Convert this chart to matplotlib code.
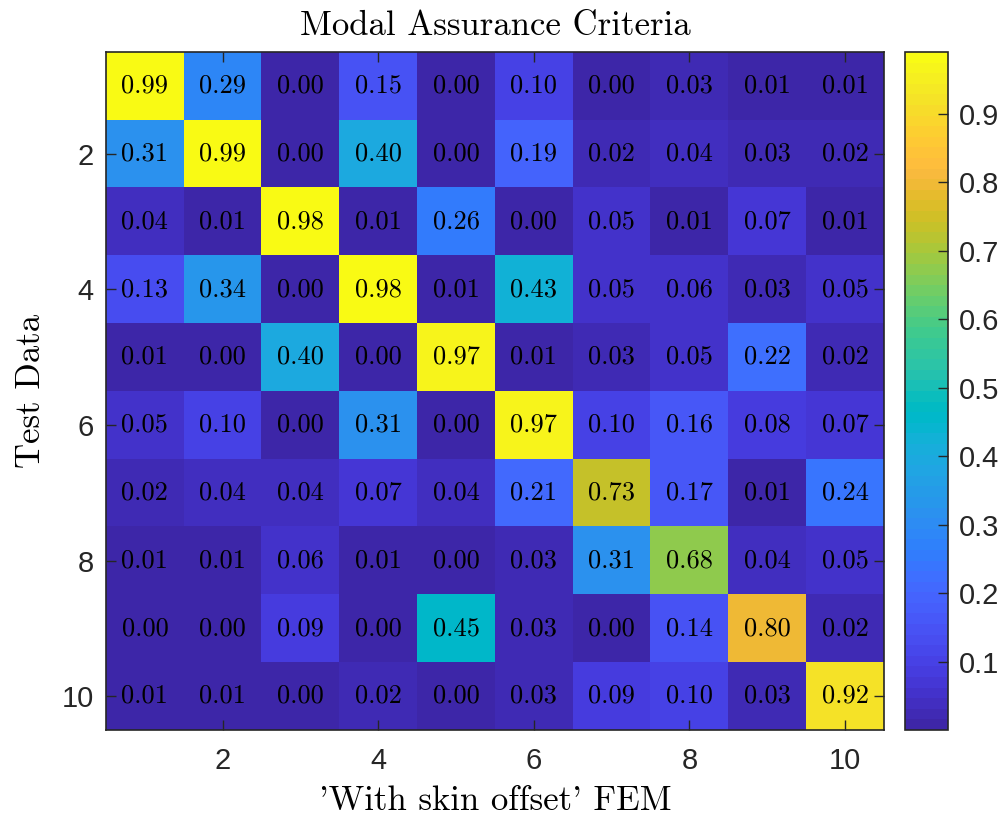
import numpy as np
import matplotlib
matplotlib.use('Agg')
import matplotlib.pyplot as plt
from matplotlib.colors import ListedColormap

# MAC values (rows: test modes, cols: FEM modes)
row1 = [0.99, 0.29, 0.00, 0.15, 0.00, 0.10, 0.00, 0.03, 0.01, 0.01]
row2 = [0.31, 0.99, 0.00, 0.40, 0.00, 0.19, 0.02, 0.04, 0.03, 0.02]
row3 = [0.04, 0.01, 0.98, 0.01, 0.26, 0.00, 0.05, 0.01, 0.07, 0.01]
row4 = [0.13, 0.34, 0.00, 0.98, 0.01, 0.43, 0.05, 0.06, 0.03, 0.05]
row5 = [0.01, 0.00, 0.40, 0.00, 0.97, 0.01, 0.03, 0.05, 0.22, 0.02]
row6 = [0.05, 0.10, 0.00, 0.31, 0.00, 0.97, 0.10, 0.16, 0.08, 0.07]
row7 = [0.02, 0.04, 0.04, 0.07, 0.04, 0.21, 0.73, 0.17, 0.01, 0.24]
row8 = [0.01, 0.01, 0.06, 0.01, 0.00, 0.03, 0.31, 0.68, 0.04, 0.05]
row9 = [0.00, 0.00, 0.09, 0.00, 0.45, 0.03, 0.00, 0.14, 0.80, 0.02]
row10 = [0.01, 0.01, 0.00, 0.02, 0.00, 0.03, 0.09, 0.10, 0.03, 0.92]
mac = np.array([row1, row2, row3, row4, row5, row6, row7, row8, row9, row10])

ticks = [2, 4, 6, 8, 10]
cbar_ticks = [0.1, 0.2, 0.3, 0.4, 0.5, 0.6, 0.7, 0.8, 0.9]

# parula (new matlab version, 64 colours)
parula = [
    [0.2422, 0.1504, 0.6603], [0.2504, 0.1650, 0.7076], [0.2578, 0.1818, 0.7511],
    [0.2647, 0.1978, 0.7952], [0.2706, 0.2147, 0.8364], [0.2751, 0.2342, 0.8710],
    [0.2783, 0.2559, 0.8991], [0.2803, 0.2782, 0.9221], [0.2813, 0.3006, 0.9414],
    [0.2810, 0.3228, 0.9579], [0.2795, 0.3447, 0.9717], [0.2760, 0.3667, 0.9829],
    [0.2699, 0.3892, 0.9906], [0.2602, 0.4123, 0.9952], [0.2440, 0.4358, 0.9988],
    [0.2206, 0.4603, 0.9973], [0.1963, 0.4847, 0.9892], [0.1834, 0.5074, 0.9798],
    [0.1786, 0.5289, 0.9682], [0.1764, 0.5499, 0.9520], [0.1687, 0.5703, 0.9359],
    [0.1540, 0.5902, 0.9218], [0.1460, 0.6091, 0.9079], [0.1380, 0.6276, 0.8973],
    [0.1248, 0.6459, 0.8883], [0.1113, 0.6635, 0.8763], [0.0952, 0.6798, 0.8598],
    [0.0689, 0.6948, 0.8394], [0.0297, 0.7082, 0.8163], [0.0036, 0.7203, 0.7917],
    [0.0067, 0.7312, 0.7660], [0.0433, 0.7411, 0.7394], [0.0964, 0.7500, 0.7120],
    [0.1408, 0.7584, 0.6842], [0.1717, 0.7670, 0.6554], [0.1938, 0.7758, 0.6251],
    [0.2161, 0.7843, 0.5923], [0.2470, 0.7918, 0.5567], [0.2906, 0.7973, 0.5188],
    [0.3406, 0.8008, 0.4789], [0.3909, 0.8029, 0.4354], [0.4456, 0.8024, 0.3909],
    [0.5044, 0.7993, 0.3480], [0.5616, 0.7942, 0.3045], [0.6174, 0.7876, 0.2612],
    [0.6720, 0.7793, 0.2227], [0.7242, 0.7698, 0.1910], [0.7738, 0.7598, 0.1646],
    [0.8203, 0.7498, 0.1535], [0.8634, 0.7406, 0.1596], [0.9035, 0.7330, 0.1774],
    [0.9393, 0.7288, 0.2100], [0.9728, 0.7298, 0.2394], [0.9956, 0.7434, 0.2371],
    [0.9970, 0.7659, 0.2199], [0.9952, 0.7893, 0.2028], [0.9892, 0.8136, 0.1885],
    [0.9786, 0.8386, 0.1766], [0.9676, 0.8639, 0.1643], [0.9610, 0.8890, 0.1537],
    [0.9597, 0.9135, 0.1423], [0.9628, 0.9373, 0.1265], [0.9691, 0.9606, 0.1064],
    [0.9769, 0.9839, 0.0805]]
cmap = ListedColormap(parula)

fig = plt.figure(figsize=(10.05, 8.26), dpi=100)
ax = fig.add_axes([0.1055, 0.1162, 0.774, 0.8208])
cax = fig.add_axes([0.9005, 0.1162, 0.0428, 0.8208])

n = mac.shape[0]
im = ax.imshow(mac, cmap=cmap, vmin=0.0, vmax=0.99, aspect='auto',
               extent=[0.5, n + 0.5, n + 0.5, 0.5], interpolation='nearest')

for i in range(n):
    for j in range(n):
        ax.text(j + 1, i + 1, '%.2f' % mac[i, j], ha='center', va='center',
                fontsize=19, family='cmr10', color='black')

dark = '#262626'
ax.set_xticks(ticks)
ax.set_yticks(ticks)
ax.tick_params(direction='in', length=7, width=1, colors=dark, labelsize=21,
               top=True, right=True)
ax.tick_params(axis='y', pad=9)
ax.tick_params(axis='x', pad=12)
for lab in ax.get_xticklabels() + ax.get_yticklabels():
    lab.set_family('Liberation Sans')
for s in ax.spines.values():
    s.set_color(dark)
    s.set_linewidth(1.2)

ax.set_title('Modal Assurance Criteria', family='cmr10', fontsize=25, pad=12)
ax.set_xlabel("'With skin offset' FEM", family='cmr10', fontsize=25, labelpad=8)
ax.set_ylabel('Test Data', family='cmr10', fontsize=25, labelpad=10)

cb = fig.colorbar(im, cax=cax, ticks=cbar_ticks)
cb.ax.tick_params(direction='in', length=7, width=1, colors=dark, labelsize=21, pad=8)
for lab in cb.ax.get_yticklabels():
    lab.set_family('Liberation Sans')
cb.outline.set_edgecolor(dark)
cb.outline.set_linewidth(1.2)

fig.savefig('out.png', dpi=100)
